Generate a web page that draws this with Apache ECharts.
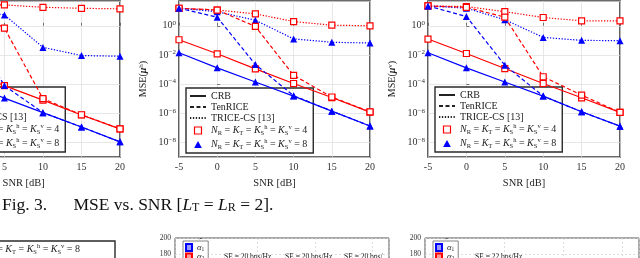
<!DOCTYPE html>
<html><head><meta charset="utf-8">
<script src="https://cdn.jsdelivr.net/npm/echarts@6/dist/echarts.min.js"></script>
<style>html,body{margin:0;padding:0;background:#fff}#c{width:640px;height:258px}</style>
</head><body><div id="c"></div><script>
// ---------- data ----------
const snr = [-5, 0, 5, 10, 15, 20];
const xTicks = [-5, 0, 5, 10, 15, 20];
const yTickExponents = [-8, -6, -4, -2, 0];

// left panel (partially visible)
const leftCRB4  = [7.9e-3, 7.9e-4, 7.9e-5, 7.9e-6, 7.6e-7, 8.5e-8];
const leftCRB8  = [1.0e-3, 1.1e-4, 1.1e-5, 1.1e-6, 1.15e-7, 1.1e-8];
const leftTen4  = [32, 25, 0.69, 1.0e-5, 7.9e-7, 8.5e-8];
const leftTen8  = [28, 2.0, 7.9e-5, 1.1e-6, 1.15e-7, 1.1e-8];
const leftCS4   = [32, 30, 27, 18.6, 15.8, 14.5];
const leftCS8   = [28, 12.6, 5.6, 3.3e-2, 9.1e-3, 8.1e-3];

// middle panel: MSE(mu^h)
const hCRB4 = [1.1e-1, 1.2e-2, 1.1e-3, 1.1e-4, 1.2e-5, 1.2e-6];
const hCRB8 = [1.4e-2, 1.3e-3, 1.4e-4, 1.5e-5, 1.4e-6, 1.35e-7];
const hTen4 = [16, 12, 0.9, 4.0e-4, 1.3e-5, 1.25e-6];
const hTen8 = [16, 3.9, 2.2e-3, 1.6e-5, 1.4e-6, 1.35e-7];
const hCS4  = [16, 12, 6.6, 1.95, 1.1, 1.0];
const hCS8  = [16, 9.3, 2.4, 0.126, 0.074, 0.066];

// right panel: MSE(mu^v)
const vCRB4 = [1.23e-1, 1.26e-2, 1.17e-3, 1.1e-4, 1.15e-5, 1.15e-6];
const vCRB8 = [1.4e-2, 1.3e-3, 1.4e-4, 1.5e-5, 1.26e-6, 1.3e-7];
const vTen4 = [23, 18.6, 3.9, 3.2e-4, 1.75e-5, 1.15e-6];
const vTen8 = [23, 4.3, 2.0e-3, 1.5e-5, 1.26e-6, 1.3e-7];
const vCS4  = [23, 21, 9.3, 3.7, 2.2, 2.2];
const vCS8  = [23, 16, 2.6, 0.16, 0.1, 0.095];

const legendNames = ['CRB', 'TenRICE', 'TRICE-CS [13]', 'NR4', 'NR8'];
const barNames = ['α1', 'α2'];
const seTextsMid = ['SE = 20 bps/Hz', 'SE = 20 bps/Hz', 'SE = 20 bps/Hz'];
const seTextRight = 'SE = 22 bps/Hz';

// ---------- chart ----------
const FONT = "'Liberation Serif', 'DejaVu Serif', serif";
const TXT = '#222';
const RED = '#ff0000', BLUE = '#0000ff';

const rich = {
  i:   {fontFamily: FONT, fontSize: 10, fontStyle: 'italic', color: TXT, lineHeight: 13},
  sub: {fontFamily: FONT, fontSize: 6.5, color: TXT, verticalAlign: 'bottom', lineHeight: 6},
  sup: {fontFamily: FONT, fontSize: 6.5, color: TXT, verticalAlign: 'top', lineHeight: 6},
  b:   {fontFamily: FONT, fontSize: 10, color: '#333', lineHeight: 12},
  s:   {fontFamily: FONT, fontSize: 7, color: '#333', verticalAlign: 'top', lineHeight: 6},
  m:   {fontFamily: FONT, fontSize: 10, fontWeight: 'bold', fontStyle: 'italic', color: TXT},
  n:   {fontFamily: FONT, fontSize: 10, color: TXT}
};
const nrLabel = k => '{i|N}{sub|R} = {i|K}{sub|T} = {i|K}{sub|S}{sup|h} = {i|K}{sub|S}{sup|v} = ' + k;

const panels = [
  {left: -72.6, width: 192.6, name: '', d: [leftCRB4, leftCRB8, leftTen4, leftTen8, leftCS4, leftCS8], lg: [-62, 87]},
  {left: 179, width: 191, name: '{n|MSE(}{m|μ}{s|h}{n|)}', d: [hCRB4, hCRB8, hTen4, hTen8, hCS4, hCS8], lg: [186, 88]},
  {left: 428, width: 192, name: '{n|MSE(}{m|μ}{s|v}{n|)}', d: [vCRB4, vCRB8, vTen4, vTen8, vCS4, vCS8], lg: [435, 87]}
];

const DOT = [1.3, 1.6], DASH = [4, 2.5];
const styles = [
  {c: RED, t: 'solid', sym: 'sq'}, {c: BLUE, t: 'solid', sym: 'tri'},
  {c: RED, t: DASH, sym: 'sq'},    {c: BLUE, t: DASH, sym: 'tri'},
  {c: RED, t: DOT, sym: 'sq'},     {c: BLUE, t: DOT, sym: 'tri'}
];
const hidden = {opacity: 0, color: 'rgba(0,0,0,0)', borderWidth: 0};

const grid = [], xAxis = [], yAxis = [], series = [], legend = [];
panels.forEach((p, gi) => {
  grid.push({left: p.left, width: p.width, top: 1, height: 156, show: true,
    borderColor: '#3a3a3a', borderWidth: 1.6, backgroundColor: 'transparent', outerBoundsMode: 'none'});
  xAxis.push({type: 'value', gridIndex: gi, min: -5, max: 20, interval: 5,
    name: 'SNR [dB]', nameLocation: 'middle', nameGap: 21,
    nameTextStyle: {fontFamily: FONT, fontSize: 10.5, color: TXT},
    axisLine: {show: false},
    axisTick: {show: true, inside: true, length: 3, lineStyle: {color: '#555', width: 0.8}},
    axisLabel: {fontFamily: FONT, fontSize: 10, color: '#333', margin: 5,
      formatter: v => xTicks.indexOf(v) >= 0 ? String(v) : ''},
    splitLine: {show: true, lineStyle: {color: '#dcdcdc', width: 0.7}}});
  yAxis.push({type: 'value', gridIndex: gi, min: -9, max: 1.7,
    name: p.name, nameLocation: 'middle', nameGap: 31, nameRotate: 90,
    nameTextStyle: {fontFamily: FONT, fontSize: 10, color: TXT, rich: rich},
    axisLine: {show: false},
    axisTick: {show: true, inside: true, length: 3, lineStyle: {color: '#555', width: 0.8}},
    axisLabel: {margin: 3, showMinLabel: false, showMaxLabel: false, rich: rich,
      formatter: v => {
        const r = Math.round(v);
        if (Math.abs(v - r) > 1e-6 || yTickExponents.indexOf(r) < 0) return '';
        return '{b|10}{s|' + (r < 0 ? '−' + (-r) : r) + '}';
      }},
    splitLine: {show: true, lineStyle: {color: '#dcdcdc', width: 0.7}}});
  p.d.forEach((vals, k) => {
    const st = styles[k];
    series.push({
      name: 'p' + gi + 's' + k, type: 'line', xAxisIndex: gi, yAxisIndex: gi,
      data: snr.map((x, i) => [x, Math.log10(vals[i])]),
      lineStyle: {color: st.c, width: 1.2, type: st.t},
      symbol: st.sym === 'sq' ? 'rect' : 'triangle',
      symbolSize: st.sym === 'sq' ? 6 : 7,
      itemStyle: st.sym === 'sq' ? {color: '#fff', borderColor: st.c, borderWidth: 1.2} : {color: st.c},
      z: 3 + (k >= 4 ? 0 : 1), silent: true, clip: true
    });
  });
  legend.push({
    orient: 'vertical', left: p.lg[0], top: p.lg[1], padding: [3, 6, 2, 3], height: 120,
    itemGap: 1, itemWidth: 16, itemHeight: 7, backgroundColor: '#fff',
    borderColor: '#2a2a2a', borderWidth: 1.4, borderRadius: 0, selectedMode: false,
    textStyle: {fontFamily: FONT, fontSize: 10, color: TXT, rich: rich},
    formatter: n => n === 'NR4' ? nrLabel(4) : n === 'NR8' ? nrLabel(8) : n,
    data: [
      {name: 'CRB', itemStyle: hidden}, {name: 'TenRICE', itemStyle: hidden},
      {name: 'TRICE-CS [13]', itemStyle: hidden},
      {name: 'NR4', icon: 'path://M0,0H1V1H0Z', itemStyle: {color: '#fff', borderColor: RED, borderWidth: 1.2}},
      {name: 'NR8', icon: 'path://M0.5,0L1,0.9L0,0.9Z', itemStyle: {color: BLUE}}
    ]
  });
});

// dummy series used only for legend line samples
[['CRB', 'solid'], ['TenRICE', DASH], ['TRICE-CS [13]', DOT]].forEach(([n, t]) => {
  series.push({name: n, type: 'line', xAxisIndex: 1, yAxisIndex: 1, data: [], symbol: 'none', symbolSize: 0,
    lineStyle: {color: '#222', width: 1.4, type: t}, itemStyle: {color: '#222'}});
});
series.push({name: 'NR4', type: 'line', xAxisIndex: 1, yAxisIndex: 1, data: [], itemStyle: {color: RED}});
series.push({name: 'NR8', type: 'line', xAxisIndex: 1, yAxisIndex: 1, data: [], itemStyle: {color: BLUE}});

// bottom bar-chart panels (only their tops are visible)
const bottom = [
  {left: 175, width: 214, xmin: -0.43, xmax: 3.29, lg: 183},
  {left: 425, width: 214, xmin: -0.35, xmax: 3.28, lg: 433}
];
bottom.forEach((b, j) => {
  const gi = 3 + j;
  grid.push({left: b.left, width: b.width, top: 238, height: 160, show: true,
    borderColor: '#555', borderWidth: 1, outerBoundsMode: 'none'});
  xAxis.push({type: 'value', gridIndex: gi, min: b.xmin, max: b.xmax, splitNumber: 4,
    axisLine: {show: false}, axisTick: {show: false}, axisLabel: {show: false},
    splitLine: {show: true, lineStyle: {color: '#cfcfcf', width: 0.7, type: [2, 2]}}});
  yAxis.push({type: 'value', gridIndex: gi, min: 0, max: 200, interval: 20,
    axisLine: {show: false}, axisTick: {show: true, inside: true, length: 2},
    axisLabel: {fontFamily: FONT, fontSize: 7.5, color: '#333', margin: 4},
    splitLine: {show: true, lineStyle: {color: '#cfcfcf', width: 0.7, type: [2, 2]}}});
  legend.push({
    orient: 'vertical', left: b.lg, top: 241, height: 60, padding: [2, 4, 2, 2], itemGap: 0,
    itemWidth: 6, itemHeight: 7, backgroundColor: '#fff', borderColor: '#666', borderWidth: 0.8,
    selectedMode: false, icon: 'rect',
    textStyle: {fontFamily: FONT, fontSize: 8, color: TXT,
      rich: {a: {fontFamily: FONT, fontSize: 8.5, fontStyle: 'italic', color: TXT, lineHeight: 10},
             u: {fontFamily: FONT, fontSize: 5.5, color: TXT, verticalAlign: 'bottom', lineHeight: 6}}},
    formatter: n => '{a|α}{u|' + n.slice(1) + '}',
    data: barNames
  });
});
series.push({name: barNames[0], type: 'bar', xAxisIndex: 3, yAxisIndex: 3, data: [],
  itemStyle: {color: '#9a9aff', borderColor: BLUE, borderWidth: 0.6}});
series.push({name: barNames[1], type: 'bar', xAxisIndex: 3, yAxisIndex: 3, data: [],
  itemStyle: {color: '#ff9a9a', borderColor: RED, borderWidth: 0.6}});

const seStyle = (x, t, w) => ({type: 'text', x: x, y: 257, z: 50,
  style: {text: t, font: '7.5px ' + FONT, fill: TXT, width: w, overflow: 'truncate', ellipsis: '',
    verticalAlign: 'middle'}});

const graphic = [
  // caption
  {type: 'text', x: 2, y: 205, z: 50, style: {
    text: 'Fig. 3.      MSE vs. SNR [{i|L}{u|T} = {i|L}{u|R} = 2].',
    font: '17.5px ' + FONT, fill: '#111', verticalAlign: 'middle',
    rich: {i: {fontFamily: FONT, fontSize: 17.5, fontStyle: 'italic', fill: '#111', lineHeight: 18},
           u: {fontFamily: FONT, fontSize: 12, fill: '#111', verticalAlign: 'bottom', lineHeight: 12}}}},
  // partial legend box bottom-left
  {type: 'polyline', z: 50, shape: {points: [[-2, 241], [115, 241], [115, 260]]},
    style: {stroke: '#2a2a2a', lineWidth: 1.4, fill: 'none'}},
  {type: 'text', x: 80, y: 249, z: 50, style: {
    text: nrLabel(8), align: 'right', verticalAlign: 'middle', font: '10px ' + FONT, fill: TXT, rich: rich}},
  seStyle(224, seTextsMid[0], 60), seStyle(285, seTextsMid[1], 60), seStyle(344, seTextsMid[2], 44),
  seStyle(475, seTextRight, 60)
];

const chart = echarts.init(document.getElementById('c'), null, {renderer: 'canvas'});
chart.setOption({animation: false, backgroundColor: '#fff',
  grid, xAxis, yAxis, series, legend, graphic});
</script></body></html>
